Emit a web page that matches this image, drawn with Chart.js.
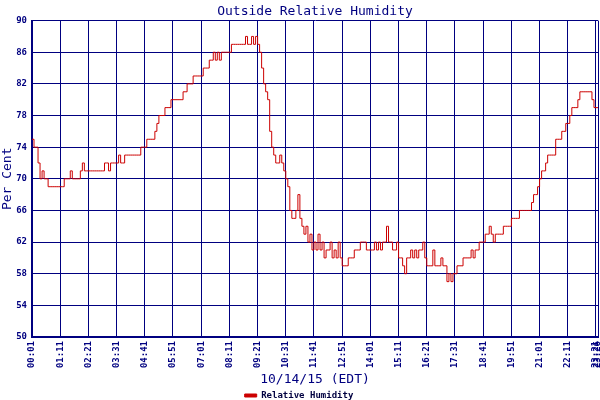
<!DOCTYPE html>
<html>
<head>
<meta charset="utf-8">
<script src="https://cdn.jsdelivr.net/npm/chart.js@4.4.1/dist/chart.umd.min.js"></script>
<style>
	body { margin: 0; background: #fff; }
	#wrap { width: 600px; height: 400px; }
</style>
</head>
<body>
<div id="wrap"><canvas id="humChart" width="600" height="400"></canvas></div>
<script>
// readings every 5 minutes, starting at 00:01
var startMinute = 1;
var stepMinutes = 5;

var humidity = [
	75,74,74,72,70,71,70,70,69,69,69,69,69,69,
	69,69,70,70,70,71,70,70,70,70,71,72,71,71,
	71,71,71,71,71,71,71,71,72,72,71,72,72,72,
	72,73,72,72,73,73,73,73,73,73,73,73,74,74,
	74,75,75,75,75,76,77,78,78,78,79,79,79,80,
	80,80,80,80,80,81,81,82,82,82,83,83,83,83,
	83,84,84,84,85,85,86,85,86,85,86,86,86,86,
	86,87,87,87,87,87,87,87,88,87,87,88,87,88,
	87,86,84,82,81,80,76,74,73,72,72,73,72,71,
	70,69,66,65,65,66,68,65,64,63,64,62,63,61,
	62,61,63,61,62,60,61,61,62,60,61,60,62,60,
	59,59,59,60,60,60,61,61,61,62,62,62,61,61,
	61,61,62,61,62,61,62,62,64,62,62,61,61,62,
	60,60,59,58,60,60,61,60,61,60,61,61,62,60,
	59,59,59,61,59,59,59,60,59,59,57,58,57,58,
	58,59,59,59,60,60,60,60,61,60,61,61,62,62,
	62,63,63,64,63,62,63,63,63,63,64,64,64,64,
	65,65,65,65,66,66,66,66,66,66,67,68,68,69,
	70,71,71,72,73,73,73,73,75,75,75,76,76,77,
	77,78,79,79,79,80,81,81,81,81,81,81,80,79,
	79,79
];

// labels shown on the time axis
var tickLabels = ["00:01","01:11","02:21","03:31","04:41","05:51","07:01","08:11","09:21","10:31",
	"11:41","12:51","14:01","15:11","16:21","17:31","18:41","19:51","21:01","22:11","23:21","23:26"];

var times = [];
for (var i = 0; i < humidity.length; i++) {
	var m = startMinute + i * stepMinutes;
	var hh = Math.floor(m / 60) % 24;
	var mm = m % 60;
	times.push((hh < 10 ? "0" : "") + hh + ":" + (mm < 10 ? "0" : "") + mm);
}

var navy = "#000080";
var mono = "'DejaVu Sans Mono', monospace";

var ctx = document.getElementById("humChart");

var data = {
	labels: times,
	datasets: [
		{
			label: "Relative Humidity",
			data: humidity,
			borderColor: "#cc0000",
			backgroundColor: "#cc0000",
			borderWidth: 1,
			pointRadius: 0,
			fill: false,
			stepped: true,
			tension: 0
		}
	]
};

var options = {
	responsive: false,
	animation: false,
	devicePixelRatio: 1,
	layout: { padding: { right: 2 } },
	plugins: {
		title: {
			display: true,
			text: "Outside Relative Humidity",
			color: navy,
			fullSize: false,
			font: { family: mono, size: 13, weight: "normal" },
			padding: { top: 4, bottom: 1 }
		},
		legend: {
			display: true,
			position: "bottom",
			maxHeight: 11,
			labels: {
				color: "#000040",
				font: { family: mono, size: 9, weight: "bold" },
				boxWidth: 12,
				boxHeight: 3,
				padding: 2
			}
		},
		tooltip: { enabled: false }
	},
	scales: {
		x: {
			type: "category",
			offset: false,
			grid: { color: navy, lineWidth: 1, drawTicks: false },
			border: { color: navy, width: 2 },
			ticks: {
				autoSkip: false,
				minRotation: 90,
				maxRotation: 90,
				padding: 4,
				color: navy,
				font: { family: mono, size: 9, weight: "bold" },
				callback: function(value, index) {
					var lab = this.getLabelForValue(value);
					return tickLabels.indexOf(lab) >= 0 ? lab : null;
				}
			},
			title: {
				display: true,
				text: "10/14/15 (EDT)",
				color: navy,
				font: { family: mono, size: 13 },
				padding: { top: 0, bottom: 2 }
			},
			afterFit: function(scale) {
				scale.height = 52;
				scale.paddingLeft = 0;
				scale.paddingRight = 0;
			}
		},
		y: {
			min: 50,
			max: 90,
			grid: { color: navy, lineWidth: 1, drawTicks: false },
			border: { color: navy, width: 2 },
			ticks: {
				stepSize: 4,
				padding: 5,
				color: navy,
				font: { family: mono, size: 9, weight: "bold" }
			},
			title: {
				display: true,
				text: "Per Cent",
				color: navy,
				font: { family: mono, size: 13 },
				padding: { top: 0, bottom: 0 }
			},
			afterFit: function(scale) { scale.width = 32; }
		}
	}
};

var chart = new Chart(ctx, {
	type: "line",
	data: data,
	options: options
});
</script>
</body>
</html>
